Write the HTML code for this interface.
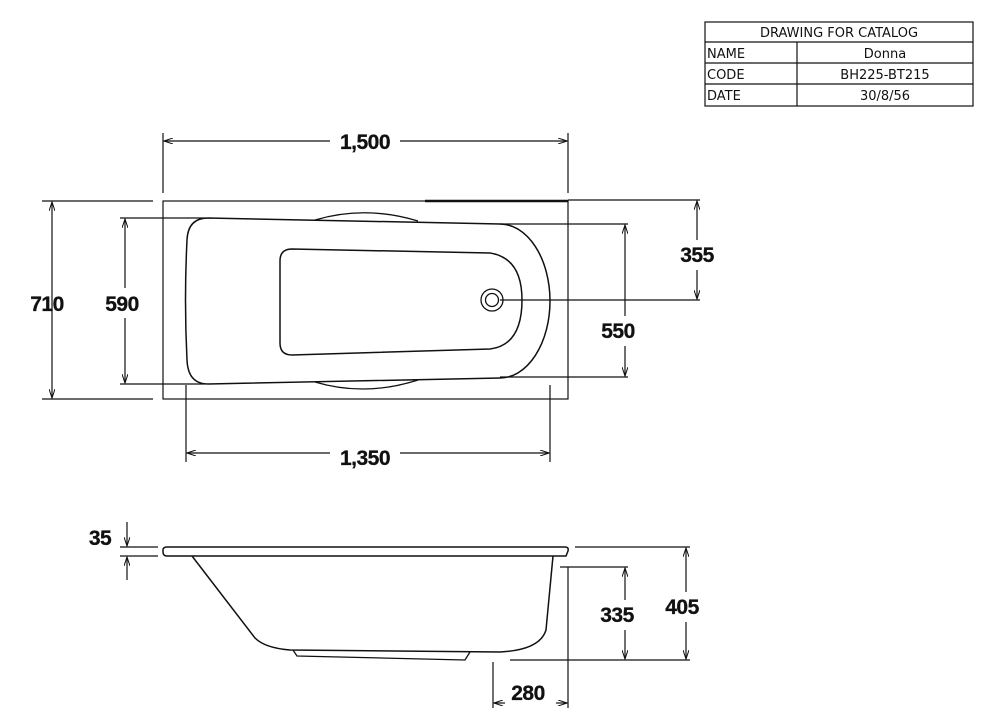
<!DOCTYPE html>
<html><head><meta charset="utf-8"><style>
html,body{margin:0;padding:0;background:#fff;}
svg{display:block;}
.d{font-family:"Liberation Sans",Arial,sans-serif;font-weight:bold;font-size:21px;letter-spacing:-0.5px;fill:#111;stroke:#111;stroke-width:0.3px;}
.t{font-family:"DejaVu Sans","Liberation Sans",sans-serif;font-size:13px;fill:#111;}
</style></head><body>
<svg width="983" height="725" viewBox="0 0 983 725" xmlns="http://www.w3.org/2000/svg">
<defs>
<marker id="a" markerWidth="10" markerHeight="6" refX="9" refY="3" orient="auto-start-reverse" markerUnits="userSpaceOnUse"><path d="M0,0 L9,3 L0,6" fill="none" stroke="#111" stroke-width="1"/></marker>
</defs>
<g stroke="#111" fill="none" stroke-width="1.2">
<rect x="705" y="22" width="268" height="84"/>
<line x1="705" y1="42" x2="973" y2="42"/>
<line x1="705" y1="63" x2="973" y2="63"/>
<line x1="705" y1="84" x2="973" y2="84"/>
<line x1="797" y1="42" x2="797" y2="106"/>

<rect x="163" y="201" width="405" height="198"/>
<line x1="425" y1="201" x2="568" y2="201" stroke-width="2.5"/>
<path d="M315,220 Q365,205 418,221" stroke-width="1.3"/>
<path d="M315,382 Q365,397 418,380" stroke-width="1.3"/>
<path d="M208,218 L500,224 A50,77 0 0 1 500,378 L208,384 Q188,384 187,360 Q184,300 187,240 Q188,218 208,218 Z" stroke-width="1.5" fill="#fff"/>
<path d="M292,249 L490,253 Q522,258 522,300 Q522,345 490,349 L292,355 Q280,355 280,343 L280,261 Q280,249 292,249 Z" stroke-width="1.5"/>
<circle cx="492" cy="300" r="11" stroke-width="1.3"/>
<circle cx="492" cy="300" r="6.5" stroke-width="1.3"/>

<line x1="163" y1="133" x2="163" y2="193"/>
<line x1="568" y1="133" x2="568" y2="193"/>
<line x1="164" y1="141" x2="330" y2="141" marker-start="url(#a)"/>
<line x1="400" y1="141" x2="567" y2="141" marker-end="url(#a)"/>
<line x1="42" y1="201" x2="153" y2="201"/>
<line x1="42" y1="399" x2="153" y2="399"/>
<line x1="52" y1="202" x2="52" y2="398" marker-start="url(#a)" marker-end="url(#a)"/>
<line x1="120" y1="218" x2="205" y2="218"/>
<line x1="120" y1="384" x2="205" y2="384"/>
<line x1="125" y1="219" x2="125" y2="288" marker-start="url(#a)"/>
<line x1="125" y1="318" x2="125" y2="383" marker-end="url(#a)"/>
<line x1="568" y1="200" x2="700" y2="200"/>
<line x1="500" y1="300" x2="700" y2="300"/>
<line x1="697" y1="201" x2="697" y2="240" marker-start="url(#a)"/>
<line x1="697" y1="270" x2="697" y2="299" marker-end="url(#a)"/>
<line x1="500" y1="224" x2="628" y2="224"/>
<line x1="500" y1="377" x2="628" y2="377"/>
<line x1="625" y1="225" x2="625" y2="316" marker-start="url(#a)"/>
<line x1="625" y1="346" x2="625" y2="376" marker-end="url(#a)"/>
<line x1="186" y1="385" x2="186" y2="462"/>
<line x1="550" y1="385" x2="550" y2="462"/>
<line x1="187" y1="453" x2="330" y2="453" marker-start="url(#a)"/>
<line x1="400" y1="453" x2="549" y2="453" marker-end="url(#a)"/>

<path d="M167,547 L565,547 Q569,547 568,551 L566,556 L167,556 Q163,556 163,552 L163,550 Q163,547 167,547 Z" stroke-width="1.5"/>
<path d="M192,556 L255,638 Q265,648 290,650 L500,652 Q540,650 546,630 L553,556" stroke-width="1.5"/>
<path d="M293,650 L297,656 L465,660 L470,652" stroke-width="1.3"/>
<line x1="120" y1="547" x2="158" y2="547"/>
<line x1="120" y1="556" x2="158" y2="556"/>
<line x1="127" y1="522" x2="127" y2="546" marker-end="url(#a)"/>
<line x1="127" y1="580" x2="127" y2="557" marker-end="url(#a)"/>
<line x1="575" y1="547" x2="690" y2="547"/>
<line x1="560" y1="567" x2="628" y2="567"/>
<line x1="510" y1="660" x2="690" y2="660"/>
<line x1="686" y1="548" x2="686" y2="592" marker-start="url(#a)"/>
<line x1="686" y1="622" x2="686" y2="659" marker-end="url(#a)"/>
<line x1="625" y1="568" x2="625" y2="600" marker-start="url(#a)"/>
<line x1="625" y1="630" x2="625" y2="659" marker-end="url(#a)"/>
<line x1="568" y1="567" x2="568" y2="708"/>
<line x1="493" y1="662" x2="493" y2="708"/>
<line x1="494" y1="703" x2="505" y2="703" marker-start="url(#a)"/>
<line x1="556" y1="703" x2="567" y2="703" marker-end="url(#a)"/>
</g>

<text class="t" x="839" y="37" text-anchor="middle">DRAWING FOR CATALOG</text>
<text class="t" x="707" y="58">NAME</text>
<text class="t" x="885" y="58" text-anchor="middle">Donna</text>
<text class="t" x="707" y="79">CODE</text>
<text class="t" x="885" y="79" text-anchor="middle">BH225-BT215</text>
<text class="t" x="707" y="100">DATE</text>
<text class="t" x="885" y="100" text-anchor="middle">30/8/56</text>

<text class="d" x="365" y="149" text-anchor="middle">1,500</text>
<text class="d" x="47" y="311" text-anchor="middle">710</text>
<text class="d" x="122" y="311" text-anchor="middle">590</text>
<text class="d" x="697" y="262" text-anchor="middle">355</text>
<text class="d" x="618" y="338" text-anchor="middle">550</text>
<text class="d" x="365" y="465" text-anchor="middle">1,350</text>
<text class="d" x="100" y="545" text-anchor="middle">35</text>
<text class="d" x="617" y="622" text-anchor="middle">335</text>
<text class="d" x="682" y="614" text-anchor="middle">405</text>
<text class="d" x="528" y="700" text-anchor="middle">280</text>
</svg>
</body></html>
